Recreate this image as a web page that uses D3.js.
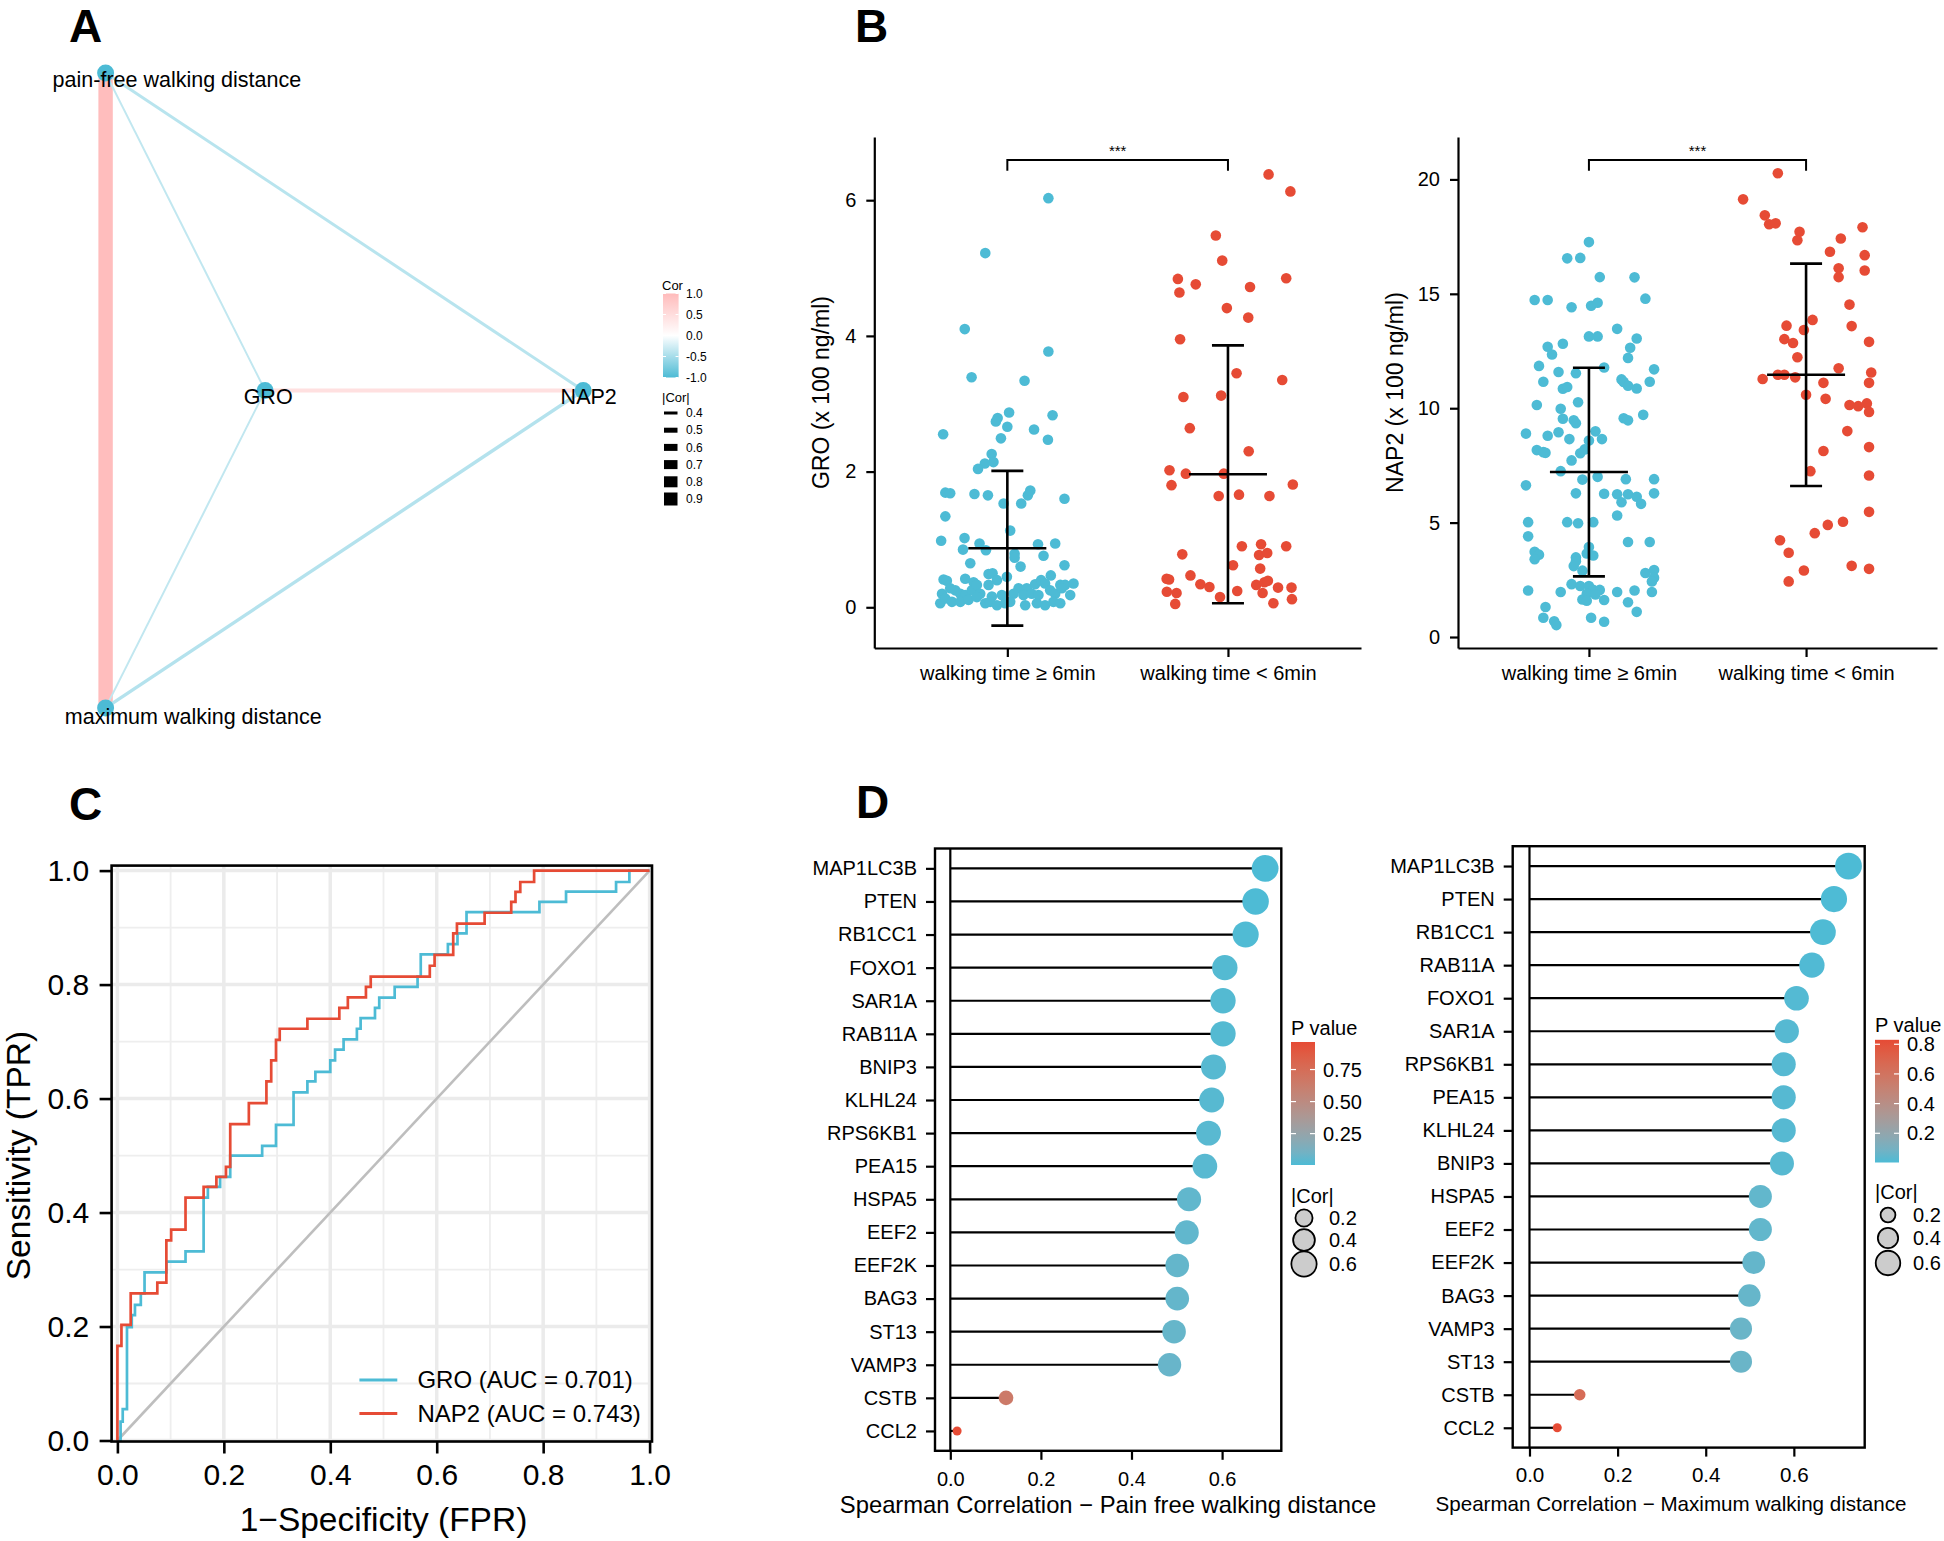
<!DOCTYPE html>
<html><head><meta charset="utf-8">
<script src="https://cdn.jsdelivr.net/npm/d3@7"></script>
<style>body{margin:0;background:#fff} text{font-family:"Liberation Sans",Arial,Helvetica,sans-serif}</style>
</head><body><svg id="fig" width="1944" height="1541" xmlns="http://www.w3.org/2000/svg"></svg>
<script>
// ---------------- DATA ----------------
// Panel A: correlation network
const netNodes = ["pain-free walking distance", "maximum walking distance", "GRO", "NAP2"];
const netNodeX = [0, 0, 0.334, 1];
const netNodeY = [1, 0, 0.5, 0.5];
const netEdgeFrom = [0, 0, 0, 1, 1, 2];
const netEdgeTo   = [1, 2, 3, 2, 3, 3];
const netEdgeCor  = [0.97, -0.35, -0.40, -0.35, -0.42, 0.45];
const corLegendTicks = [1.0, 0.5, 0.0, -0.5, -1.0];
const absCorLegend = [0.4, 0.5, 0.6, 0.7, 0.8, 0.9];

// Panel B: strip plots
const groups = ["walking time \u2265 6min", "walking time < 6min"];
const groG1 = [6.03,5.22,4.10,3.77,3.39,3.34,2.87,2.79,2.74,2.83,2.66,2.55,2.62,2.49,2.47,2.26,2.14,2.12,2.04,
  1.69,1.68,1.67,1.65,1.53,1.53,1.65,1.72,1.60,1.34,1.13,0.98,1.02,0.94,0.85,0.84,0.79,0.73,0.93,0.76,0.94,0.65,0.60,0.62,
  0.41,0.39,0.42,0.37,0.49,0.50,0.40,0.33,0.45,0.28,0.28,0.34,0.40,0.35,0.47,0.33,0.33,0.35,
  0.20,0.28,0.25,0.20,0.18,0.25,0.33,0.20,0.16,0.18,0.20,0.18,0.20,0.18,0.25,0.20,0.28,0.18,
  0.06,0.13,0.08,0.08,0.11,0.15,0.06,0.08,0.03,0.06,0.08,0.03,0.06,0.03,0.08,0.06];
const groG1Jit = [0.186,-0.100,-0.193,0.186,-0.162,0.078,0.008,-0.044,-0.052,0.205,0.0,-0.291,0.121,-0.029,0.184,-0.071,-0.063,-0.102,-0.133,
  -0.281,-0.259,-0.149,-0.088,-0.017,0.063,0.093,0.104,0.259,-0.281,0.013,-0.300,-0.194,-0.126,-0.201,-0.097,0.033,0.033,0.139,0.164,0.217,-0.168,0.060,0.259,
  -0.289,-0.274,-0.191,-0.153,-0.085,-0.067,-0.047,-0.085,-0.002,0.051,0.088,0.126,0.153,0.171,0.197,0.240,0.262,0.300,
  -0.296,-0.259,-0.236,-0.213,-0.191,-0.161,-0.138,-0.123,-0.070,-0.025,0.028,0.073,0.111,0.141,0.194,0.217,0.247,0.285,
  -0.304,-0.281,-0.251,-0.213,-0.176,-0.138,-0.100,-0.078,-0.047,-0.010,0.013,0.081,0.134,0.171,0.209,0.240];
const groG2 = [6.38,6.13,5.48,5.11,4.84,4.85,4.64,4.76,4.72,4.41,4.27,3.95,3.45,3.35,3.10,3.12,2.64,2.30,2.02,1.97,1.97,1.80,1.81,1.64,1.66,1.64,
  0.93,0.90,0.90,0.78,0.77,0.80,0.62,0.57,0.42,0.41,0.47,0.34,0.30,0.33,0.37,0.39,0.29,0.29,0.23,0.21,0.24,0.21,0.15,0.12,0.05,0.06];
const groG2Jit = [0.184,0.283,-0.055,-0.026,-0.227,0.264,-0.220,-0.146,0.100,-0.005,0.092,-0.217,0.039,0.246,-0.202,-0.031,-0.173,0.094,-0.265,-0.191,-0.019,-0.256,0.294,-0.042,0.050,0.188,
  0.150,0.063,0.264,-0.207,0.141,0.178,0.023,0.146,-0.278,-0.267,-0.170,-0.125,-0.084,0.128,0.165,0.181,0.227,0.288,-0.277,-0.233,0.042,0.157,-0.036,0.290,-0.239,0.206];
const nap2G1 = [17.26,16.55,16.57,15.73,15.72,14.73,14.73,14.79,14.41,14.48,14.61,13.47,13.14,13.14,13.05,12.82,12.69,12.35,12.64,12.20,
  11.85,11.78,11.70,11.58,11.53,11.16,11.26,11.15,11.16,10.85,10.93,10.98,10.86,10.14,10.26,9.98,9.54,9.47,9.34,9.56,
  9.47,9.71,8.89,8.80,8.95,8.99,8.65,8.59,8.65,8.20,8.17,8.08,8.05,8.03,7.72,7.25,6.88,7.00,6.90,6.90,
  6.63,6.28,6.26,6.24,6.24,6.13,5.82,5.89,6.28,5.31,5.02,5.02,4.97,5.02,4.40,4.15,4.15,3.73,3.60,3.40,
  3.93,3.65,3.56,3.48,3.31,3.10,2.90,2.80,2.93,2.59,2.43,2.31,2.23,2.23,2.06,2.06,1.89,1.86,2.03,1.97,
  1.97,2.03,1.97,1.64,1.59,1.62,1.52,1.31,1.10,0.84,0.69,0.52,0.84,0.67];
const nap2G1Jit = [0.00,-0.10,-0.04,0.05,0.21,-0.25,-0.19,0.26,-0.08,0.01,0.04,0.13,0.00,0.04,0.22,-0.12,-0.19,-0.17,0.19,0.18,
  -0.23,0.07,0.30,-0.14,-0.06,-0.21,0.15,0.16,0.28,-0.12,-0.10,0.18,0.22,-0.24,-0.05,-0.13,-0.12,-0.07,-0.06,0.16,
  0.18,0.25,-0.29,-0.19,-0.14,0.03,-0.09,0.00,0.06,-0.02,-0.24,-0.21,-0.20,-0.04,-0.08,-0.13,-0.03,0.04,0.17,0.30,
  -0.29,-0.06,0.07,0.13,0.18,0.22,0.24,0.15,0.30,0.13,-0.28,-0.10,-0.05,0.02,-0.28,0.18,0.28,-0.25,-0.23,-0.25,
  0.00,-0.01,0.02,-0.06,-0.06,-0.07,-0.03,0.26,0.30,0.30,0.29,-0.08,-0.04,0.00,0.02,0.05,-0.01,0.03,-0.28,-0.13,
  0.13,0.21,0.29,-0.03,-0.01,0.07,0.18,-0.20,0.22,-0.21,-0.16,-0.15,0.01,0.07];
const nap2G2 = [20.27,19.13,18.43,18.04,18.08,17.71,17.34,17.42,17.91,16.84,16.69,16.12,16.02,15.73,14.53,13.86,13.61,13.42,13.59,13.02,
  12.85,12.90,12.23,11.75,11.56,11.28,11.46,11.46,11.35,11.11,11.11,10.59,10.41,10.14,10.09,10.21,9.84,9.00,8.13,8.30,
  7.25,7.06,5.47,5.04,4.90,4.54,4.23,3.68,3.11,2.91,2.98,2.43];
const nap2G2Jit = [-0.13,-0.29,-0.19,-0.17,-0.14,-0.03,-0.04,0.16,0.26,0.11,0.27,0.15,0.27,0.15,0.20,0.03,-0.09,-0.01,0.21,-0.10,
  -0.06,0.29,-0.04,0.15,0.30,-0.20,-0.13,-0.10,-0.05,0.08,0.29,0.00,0.09,0.20,0.24,0.28,0.29,0.19,0.08,0.29,
  0.02,0.29,0.29,0.17,0.10,0.04,-0.12,-0.08,0.21,-0.01,0.29,-0.08];
const groMean = [0.87, 1.96], groSD = [1.14, 1.90];
const nap2Mean = [7.21, 11.46], nap2SD = [4.56, 4.86];
const groTicks = [0, 2, 4, 6];
const nap2Ticks = [0, 5, 10, 15, 20];

// Panel C: ROC step curves (corner points)
const rocGroFpr = [0,0.006,0.010,0.018,0.027,0.033,0.044,0.051,0.092,0.128,0.162,0.170,0.193,0.212,0.272,0.298,0.331,0.357,0.372,0.400,0.409,0.425,0.450,0.457,0.484,0.492,0.521,0.564,0.570,0.621,0.639,0.656,0.793,0.843,0.937,0.962,1];
const rocGroTpr = [0,0.033,0.055,0.199,0.220,0.238,0.258,0.295,0.314,0.332,0.426,0.445,0.4625,0.500,0.517,0.554,0.611,0.630,0.647,0.667,0.686,0.704,0.7225,0.741,0.759,0.777,0.796,0.814,0.853,0.871,0.890,0.927,0.945,0.963,0.980,1.0,1.0];
const rocNapFpr = [0,0,0.0076,0.025,0.075,0.092,0.101,0.128,0.162,0.186,0.204,0.212,0.247,0.280,0.289,0.298,0.305,0.357,0.417,0.433,0.467,0.476,0.587,0.596,0.631,0.638,0.690,0.740,0.748,0.757,0.783,1];
const rocNapTpr = [0,0.166,0.203,0.258,0.277,0.351,0.370,0.426,0.445,0.4625,0.480,0.555,0.592,0.630,0.667,0.703,0.7225,0.740,0.759,0.7775,0.796,0.814,0.833,0.852,0.890,0.907,0.926,0.945,0.9625,0.980,1.0,1.0];
const rocLegend = ["GRO (AUC = 0.701)", "NAP2 (AUC = 0.743)"];
const rocTicks = [0, 0.2, 0.4, 0.6, 0.8, 1.0];

// Panel D: lollipops
const genesPF = ["MAP1LC3B","PTEN","RB1CC1","FOXO1","SAR1A","RAB11A","BNIP3","KLHL24","RPS6KB1","PEA15","HSPA5","EEF2","EEF2K","BAG3","ST13","VAMP3","CSTB","CCL2"];
const corPF = [0.695,0.674,0.652,0.606,0.602,0.602,0.581,0.577,0.570,0.562,0.527,0.522,0.501,0.501,0.494,0.484,0.123,0.015];
const pPF = [0.005,0.007,0.010,0.020,0.020,0.020,0.025,0.025,0.030,0.030,0.050,0.050,0.060,0.060,0.065,0.070,0.650,0.965];
const genesMax = ["MAP1LC3B","PTEN","RB1CC1","RAB11A","FOXO1","SAR1A","RPS6KB1","PEA15","KLHL24","BNIP3","HSPA5","EEF2","EEF2K","BAG3","VAMP3","ST13","CSTB","CCL2"];
const corMax = [0.724,0.691,0.666,0.641,0.606,0.584,0.577,0.577,0.577,0.573,0.524,0.524,0.509,0.499,0.480,0.480,0.114,0.063];
const pMax = [0.003,0.005,0.007,0.010,0.015,0.020,0.020,0.020,0.020,0.022,0.045,0.045,0.050,0.055,0.065,0.065,0.650,0.830];
const corTicksD = [0, 0.2, 0.4, 0.6];
const pTicksPF = [0.25, 0.50, 0.75];
const pTicksMax = [0.2, 0.4, 0.6, 0.8];
const absCorLegendD = [0.2, 0.4, 0.6];

// ---------------- DRAWING ----------------
const svg = d3.select("#fig");
const defs = svg.append("defs");
svg.append("rect").attr("width", 1944).attr("height", 1541).attr("fill", "#fff");
const BLUE = "#4DBBD5", RED = "#E64B35";

function panelLabel(t, x, y) {
  svg.append("text").attr("x", x).attr("y", y).attr("font-size", 46).attr("font-weight", "bold").text(t);
}
panelLabel("A", 69, 42); panelLabel("B", 855, 42); panelLabel("C", 69, 820); panelLabel("D", 856, 818);

function styleAxis(g, size, sw) {
  g.attr("font-size", size).attr("font-family", '"Liberation Sans", Arial, Helvetica, sans-serif');
  g.selectAll("text").attr("fill", "#000");
  g.selectAll("line").attr("stroke", "#000").attr("stroke-width", sw);
  g.select(".domain").attr("stroke", "#000").attr("stroke-width", sw);
}

// ---- Panel A ----
(function () {
  const g = svg.append("g");
  const x = d3.scaleLinear().domain([0, 1]).range([105.6, 583.2]);
  const y = d3.scaleLinear().domain([0, 1]).range([707.9, 73.1]);
  const col = d3.scaleLinear().domain([-1, 0, 1]).range([BLUE, "#FFFFFF", "#FFBBBB"]);
  const wid = d3.scaleLinear().domain([0.4, 0.9]).range([3, 13]);
  netEdgeCor.forEach((c, i) => {
    const a = netEdgeFrom[i], b = netEdgeTo[i];
    g.append("line").attr("x1", x(netNodeX[a])).attr("y1", y(netNodeY[a]))
      .attr("x2", x(netNodeX[b])).attr("y2", y(netNodeY[b]))
      .attr("stroke", col(c)).attr("stroke-width", wid(Math.abs(c)));
  });
  netNodes.forEach((n, i) => {
    g.append("circle").attr("cx", x(netNodeX[i])).attr("cy", y(netNodeY[i])).attr("r", 8.5).attr("fill", BLUE);
  });
  const lab = [{dx: -53, dy: 13.7, a: "start"}, {dx: -40.8, dy: 15.6, a: "start"}, {dx: 3, dy: 13.2, a: "middle"}, {dx: 5.5, dy: 13.2, a: "middle"}];
  netNodes.forEach((n, i) => {
    g.append("text").attr("x", x(netNodeX[i]) + lab[i].dx).attr("y", y(netNodeY[i]) + lab[i].dy)
      .attr("text-anchor", lab[i].a).attr("font-size", 21.5).text(n);
  });
  // legend Cor
  const gr = defs.append("linearGradient").attr("id", "corGrad").attr("x1", 0).attr("y1", 1).attr("x2", 0).attr("y2", 0);
  d3.range(0, 1.0001, 0.1).forEach(t => gr.append("stop").attr("offset", t).attr("stop-color", col(-1 + 2 * t)));
  g.append("text").attr("x", 662).attr("y", 290).attr("font-size", 13).text("Cor");
  const ly = d3.scaleLinear().domain([-1, 1]).range([377.5, 293.5]);
  g.append("rect").attr("x", 663).attr("y", ly(1)).attr("width", 15.6).attr("height", ly(-1) - ly(1)).attr("fill", "url(#corGrad)");
  corLegendTicks.forEach(v => {
    [663, 675.6].forEach(xx => g.append("line").attr("x1", xx).attr("x2", xx + 3).attr("y1", ly(v)).attr("y2", ly(v)).attr("stroke", "#fff").attr("stroke-width", 1));
    g.append("text").attr("x", 686).attr("y", ly(v)).attr("dy", "0.35em").attr("font-size", 12).text(d3.format(".1f")(v).replace("\u2212", "-"));
  });
  g.append("text").attr("x", 662).attr("y", 402).attr("font-size", 13).text("|Cor|");
  absCorLegend.forEach((v, i) => {
    const yy = 413 + i * 17.2;
    const h = wid(v);
    g.append("rect").attr("x", 664).attr("y", yy - h / 2).attr("width", 13.5).attr("height", h).attr("fill", "#000");
    g.append("text").attr("x", 686).attr("y", yy).attr("dy", "0.35em").attr("font-size", 12).text(v.toFixed(1));
  });
})();

// ---- Panel B ----
function drawStrip(c) {
  const g = svg.append("g");
  const x = d3.scalePoint().domain(groups).range([c.x0, c.x1]).padding(0.603);
  const y = d3.scaleLinear().domain(c.ydom).range([c.yBot, c.yTop]);
  const step = x.step();
  [[c.v1, c.j1, BLUE], [c.v2, c.j2, RED]].forEach(([vals, jit, colr], gi) => {
    g.selectAll(null).data(vals).enter().append("circle")
      .attr("cx", (d, i) => x(groups[gi]) + (jit[i] || 0) * step)
      .attr("cy", d => y(d)).attr("r", 5.3).attr("fill", colr);
  });
  groups.forEach((gn, gi) => {
    const cx = x(gn), m = c.mean[gi], s = c.sd[gi];
    const ln = (x1, y1, x2, y2) => g.append("line").attr("x1", x1).attr("y1", y1).attr("x2", x2).attr("y2", y2).attr("stroke", "#000").attr("stroke-width", 2.6);
    ln(cx, y(m - s), cx, y(m + s));
    ln(cx - 16, y(m + s), cx + 16, y(m + s));
    ln(cx - 16, y(m - s), cx + 16, y(m - s));
    ln(cx - 39, y(m), cx + 39, y(m));
  });
  const ya = g.append("g").attr("transform", `translate(${c.x0},0)`)
    .call(d3.axisLeft(y).tickValues(c.ticks).tickSize(8).tickSizeOuter(0).tickPadding(10));
  styleAxis(ya, 20, 2.2);
  const xa = g.append("g").attr("transform", `translate(0,${c.yBot})`)
    .call(d3.axisBottom(x).tickSize(9).tickSizeOuter(0).tickPadding(8.6));
  styleAxis(xa, 20, 2.2);
  g.append("text").attr("transform", `translate(${c.titleX},${(c.yTop + c.yBot) / 2}) rotate(-90)`)
    .attr("text-anchor", "middle").attr("dy", "0.35em").attr("font-size", 23).text(c.title);
  const bx1 = x(groups[0]), bx2 = x(groups[1]), by = 160;
  g.append("path").attr("d", `M${bx1},${by + 10.8}V${by}H${bx2}V${by + 10.8}`).attr("fill", "none").attr("stroke", "#000").attr("stroke-width", 2);
  g.append("text").attr("x", (bx1 + bx2) / 2).attr("y", 156).attr("text-anchor", "middle").attr("font-size", 15).text("***");
}
drawStrip({x0: 874.3, x1: 1361, yTop: 137.1, yBot: 648, ydom: [-0.6, 6.93], ticks: groTicks,
  v1: groG1, j1: groG1Jit, v2: groG2, j2: groG2Jit, mean: groMean, sd: groSD, title: "GRO (x 100 ng/ml)", titleX: 821});
drawStrip({x0: 1458, x1: 1937, yTop: 137.1, yBot: 648, ydom: [-0.48, 21.85], ticks: nap2Ticks,
  v1: nap2G1, j1: nap2G1Jit, v2: nap2G2, j2: nap2G2Jit, mean: nap2Mean, sd: nap2SD, title: "NAP2 (x 100 ng/ml)", titleX: 1395.4});

// ---- Panel C ----
(function () {
  const g = svg.append("g");
  const L = 111.6, R = 652, T = 865.6, B = 1441.5;
  const x = d3.scaleLinear().domain([0, 1]).range([117.4, 649.6]);
  const y = d3.scaleLinear().domain([0, 1]).range([1440.5, 870.6]);
  g.append("rect").attr("x", L).attr("y", T).attr("width", R - L).attr("height", B - T).attr("fill", "#fff");
  const minor = [0.1, 0.3, 0.5, 0.7, 0.9];
  minor.forEach(v => {
    g.append("line").attr("x1", x(v)).attr("x2", x(v)).attr("y1", T).attr("y2", B).attr("stroke", "#EEEEEE").attr("stroke-width", 1.8);
    g.append("line").attr("y1", y(v)).attr("y2", y(v)).attr("x1", L).attr("x2", R).attr("stroke", "#EEEEEE").attr("stroke-width", 1.8);
  });
  rocTicks.forEach(v => {
    g.append("line").attr("x1", x(v)).attr("x2", x(v)).attr("y1", T).attr("y2", B).attr("stroke", "#EBEBEB").attr("stroke-width", 3.5);
    g.append("line").attr("y1", y(v)).attr("y2", y(v)).attr("x1", L).attr("x2", R).attr("stroke", "#EBEBEB").attr("stroke-width", 3.5);
  });
  g.append("line").attr("x1", x(0)).attr("y1", y(0)).attr("x2", x(1)).attr("y2", y(1)).attr("stroke", "#BEBEBE").attr("stroke-width", 2.6);
  const line = d3.line().x(d => x(d[0])).y(d => y(d[1])).curve(d3.curveStepAfter);
  g.append("path").attr("d", line(d3.zip(rocGroFpr, rocGroTpr))).attr("fill", "none").attr("stroke", BLUE).attr("stroke-width", 2.7);
  g.append("path").attr("d", line(d3.zip(rocNapFpr, rocNapTpr))).attr("fill", "none").attr("stroke", RED).attr("stroke-width", 2.7);
  g.append("rect").attr("x", L).attr("y", T).attr("width", R - L).attr("height", B - T).attr("fill", "none").attr("stroke", "#000").attr("stroke-width", 2.6);
  const ya = g.append("g").attr("transform", `translate(${L},0)`)
    .call(d3.axisLeft(y).tickValues(rocTicks).tickFormat(d3.format(".1f")).tickSize(12).tickSizeOuter(0).tickPadding(10.3));
  styleAxis(ya, 30, 2.6); ya.select(".domain").remove();
  const xa = g.append("g").attr("transform", `translate(0,${B})`)
    .call(d3.axisBottom(x).tickValues(rocTicks).tickFormat(d3.format(".1f")).tickSize(12).tickSizeOuter(0).tickPadding(10.3));
  styleAxis(xa, 30, 2.6); xa.select(".domain").remove();
  g.append("text").attr("x", (x(0) + x(1)) / 2).attr("y", 1531).attr("text-anchor", "middle").attr("font-size", 33.5).text("1\u2212Specificity (FPR)");
  g.append("text").attr("transform", `translate(18,${(y(0) + y(1)) / 2}) rotate(-90)`).attr("text-anchor", "middle").attr("dy", "0.35em")
    .attr("font-size", 33.5).text("Sensitivity (TPR)");
  [[BLUE, 1380], [RED, 1413.4]].forEach(([c, yy], i) => {
    g.append("line").attr("x1", 359.4).attr("x2", 397.3).attr("y1", yy).attr("y2", yy).attr("stroke", c).attr("stroke-width", 3);
    g.append("text").attr("x", 417.4).attr("y", yy).attr("dy", "0.35em").attr("font-size", 24).text(rocLegend[i]);
  });
})();

// ---- Panel D ----
function drawLolli(c) {
  const g = svg.append("g");
  const x = d3.scaleLinear().domain(c.xdom).range([c.left, c.right]);
  const y = d3.scalePoint().domain(c.genes).range([c.top, c.bottom]).padding(0.6);
  const r = d3.scaleSqrt().domain(d3.extent(c.cor)).range([4.5, 13.4]);
  const pExt = d3.extent(c.p);
  const col = d3.scaleLinear().domain(pExt).range([BLUE, RED]).interpolate(d3.interpolateLab);
  g.append("line").attr("x1", x(0)).attr("x2", x(0)).attr("y1", c.top).attr("y2", c.bottom).attr("stroke", "#000").attr("stroke-width", 2.2);
  c.genes.forEach((gn, i) => {
    g.append("line").attr("x1", x(0)).attr("x2", x(c.cor[i])).attr("y1", y(gn)).attr("y2", y(gn)).attr("stroke", "#000").attr("stroke-width", 2.2);
  });
  c.genes.forEach((gn, i) => {
    g.append("circle").attr("cx", x(c.cor[i])).attr("cy", y(gn)).attr("r", r(c.cor[i])).attr("fill", col(c.p[i]));
  });
  g.append("rect").attr("x", c.left).attr("y", c.top).attr("width", c.right - c.left).attr("height", c.bottom - c.top)
    .attr("fill", "none").attr("stroke", "#000").attr("stroke-width", 2.4);
  const ya = g.append("g").attr("transform", `translate(${c.left},0)`).call(d3.axisLeft(y).tickSize(9).tickPadding(9));
  styleAxis(ya, 20, 2.2); ya.select(".domain").remove();
  const xa = g.append("g").attr("transform", `translate(0,${c.bottom})`)
    .call(d3.axisBottom(x).tickValues(corTicksD).tickFormat(d3.format(".1f")).tickSize(9).tickSizeOuter(0).tickPadding(c.xPad));
  styleAxis(xa, c.tickFont, 2.2); xa.select(".domain").remove();
  g.append("text").attr("x", c.titleX).attr("y", c.titleY).attr("text-anchor", "middle").attr("font-size", c.titleFont).text(c.title);
  // P value legend
  const gid = "pg" + c.id;
  const gr = defs.append("linearGradient").attr("id", gid).attr("x1", 0).attr("y1", 1).attr("x2", 0).attr("y2", 0);
  d3.range(0, 1.0001, 0.1).forEach(t => gr.append("stop").attr("offset", t).attr("stop-color", col(pExt[0] + t * (pExt[1] - pExt[0]))));
  g.append("text").attr("x", c.legX).attr("y", c.legTitleY).attr("font-size", 20).text("P value");
  g.append("rect").attr("x", c.legX).attr("y", c.barTop).attr("width", 24).attr("height", c.barBot - c.barTop).attr("fill", `url(#${gid})`);
  const py = d3.scaleLinear().domain(pExt).range([c.barBot, c.barTop]);
  c.pTicks.forEach(v => {
    [c.legX, c.legX + 19].forEach(xx => g.append("line").attr("x1", xx).attr("x2", xx + 5).attr("y1", py(v)).attr("y2", py(v)).attr("stroke", "#fff").attr("stroke-width", 1.2));
    g.append("text").attr("x", c.legX + 32).attr("y", py(v)).attr("dy", "0.35em").attr("font-size", 20).text(c.pFmt(v));
  });
  g.append("text").attr("x", c.legX).attr("y", c.corTitleY).attr("font-size", 20).text("|Cor|");
  absCorLegendD.forEach((v, i) => {
    g.append("circle").attr("cx", c.legX + 13).attr("cy", c.corY[i]).attr("r", r(v)).attr("fill", "#CCCCCC").attr("stroke", "#000").attr("stroke-width", 1.8);
    g.append("text").attr("x", c.legX + 38).attr("y", c.corY[i]).attr("dy", "0.35em").attr("font-size", 20).text(v.toFixed(1));
  });
}
drawLolli({id: "a", genes: genesPF, cor: corPF, p: pPF, left: 935, right: 1281.3, top: 848.5, bottom: 1450.8, xdom: [-0.0338, 0.7307],
  xPad: 11.7, tickFont: 20, title: "Spearman Correlation \u2212 Pain free walking distance", titleX: 1108, titleY: 1513.3, titleFont: 23.8,
  legX: 1291, legTitleY: 1035, barTop: 1042, barBot: 1165, pTicks: pTicksPF, pFmt: d3.format(".2f"), corTitleY: 1203, corY: [1218, 1240, 1264]});
drawLolli({id: "b", genes: genesMax, cor: corMax, p: pMax, left: 1512.7, right: 1864.7, top: 846.2, bottom: 1447.6, xdom: [-0.0381, 0.7608],
  xPad: 10.8, tickFont: 20.6, title: "Spearman Correlation \u2212 Maximum walking distance", titleX: 1671, titleY: 1510.6, titleFont: 20.6,
  legX: 1875, legTitleY: 1032, barTop: 1039.8, barBot: 1162.5, pTicks: pTicksMax, pFmt: d3.format(".1f"), corTitleY: 1199, corY: [1215, 1238, 1263]});
</script></body></html>
